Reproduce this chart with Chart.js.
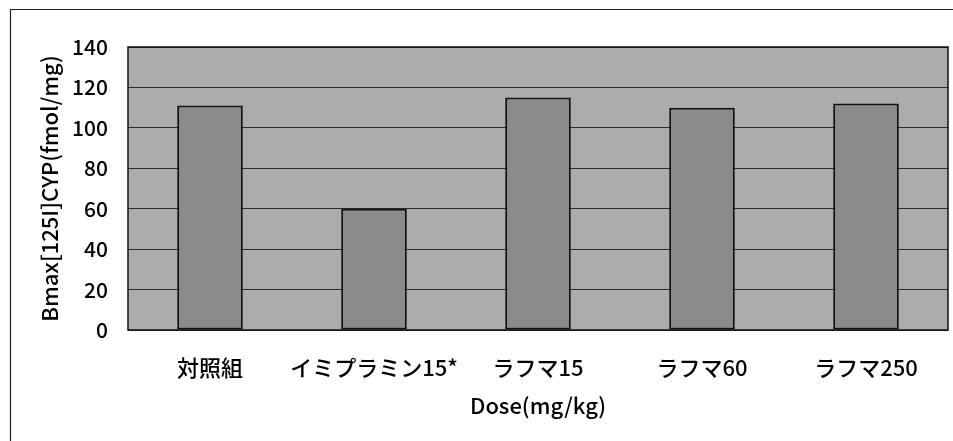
<!DOCTYPE html>
<html>
<head>
<meta charset="utf-8">
<script src="https://cdn.jsdelivr.net/npm/chart.js@4/dist/chart.umd.min.js"></script>
<style>
  html, body { margin: 0; padding: 0; background: #fff; }
  #wrap { width: 953px; height: 441px; position: relative; }
</style>
</head>
<body>
<div id="wrap"><canvas id="c" width="953" height="441"></canvas></div>
<script>
// Receptor density per dose group
const categories = ['対照組', 'イミプラミン15*', 'ラフマ15', 'ラフマ60', 'ラフマ250'];
const bmaxValues = [111, 60, 115, 110, 112];
const yTickValues = [0, 20, 40, 60, 80, 100, 120, 140];
const xAxisTitle = 'Dose(mg/kg)';
const yAxisTitle = 'Bmax[125I]CYP(fmol/mg)';

const FONT = '"Noto Sans CJK JP", "Noto Sans", sans-serif';

// Page frame plus plot-area fill and border
const framePlugin = {
  id: 'frame',
  beforeDraw(chart) {
    const { ctx, chartArea: a } = chart;
    ctx.save();
    ctx.fillStyle = '#fff';
    ctx.fillRect(0, 0, chart.width, chart.height);
    ctx.strokeStyle = '#222';
    ctx.lineWidth = 1.2;
    ctx.beginPath();
    ctx.moveTo(10, 9.5); ctx.lineTo(chart.width, 9.5);
    ctx.moveTo(10.5, 9); ctx.lineTo(10.5, chart.height);
    ctx.stroke();
    ctx.fillStyle = '#acacac';
    ctx.fillRect(a.left, a.top, a.right - a.left, a.bottom - a.top);
    ctx.restore();
  },
  afterDatasetsDraw(chart) {
    const { ctx, chartArea: a } = chart;
    ctx.save();
    ctx.strokeStyle = '#111';
    ctx.lineWidth = 1.5;
    ctx.strokeRect(a.left, a.top, a.right - a.left, a.bottom - a.top);
    ctx.restore();
  }
};

new Chart(document.getElementById('c'), {
  type: 'bar',
  data: {
    labels: categories,
    datasets: [{
      data: bmaxValues,
      backgroundColor: '#8b8b8b',
      borderColor: '#111',
      borderWidth: 2,
      borderSkipped: false,
      barPercentage: 0.4,
      categoryPercentage: 1.0
    }]
  },
  options: {
    responsive: false,
    animation: false,
    devicePixelRatio: 1,
    layout: { padding: { top: 47, right: 5, bottom: 0, left: 0 } },
    plugins: { legend: { display: false }, tooltip: { enabled: false } },
    scales: {
      x: {
        grid: { display: false, drawTicks: false },
        border: { display: false },
        ticks: { color: '#000', font: { family: FONT, size: 22, weight: 500 }, padding: 24, maxRotation: 0, autoSkip: false },
        title: { display: true, text: xAxisTitle, color: '#000', font: { family: FONT, size: 22, weight: 500 }, padding: { top: 0, bottom: 22 } },
        afterFit(scale) { scale.height = 111; }
      },
      y: {
        min: 0, max: 140,
        afterBuildTicks(scale) { scale.ticks = yTickValues.map(v => ({ value: v })); },
        grid: { color: '#2a2a2a', lineWidth: 1, drawTicks: false },
        border: { display: false },
        ticks: { color: '#000', font: { family: FONT, size: 21, weight: 500 }, padding: 20 },
        title: { display: true, text: yAxisTitle, color: '#000', font: { family: FONT, size: 22, weight: 500 }, padding: { top: 36, bottom: 0 } },
        afterFit(scale) { scale.width = 128; }
      }
    }
  },
  plugins: [framePlugin]
});
</script>
</body>
</html>
